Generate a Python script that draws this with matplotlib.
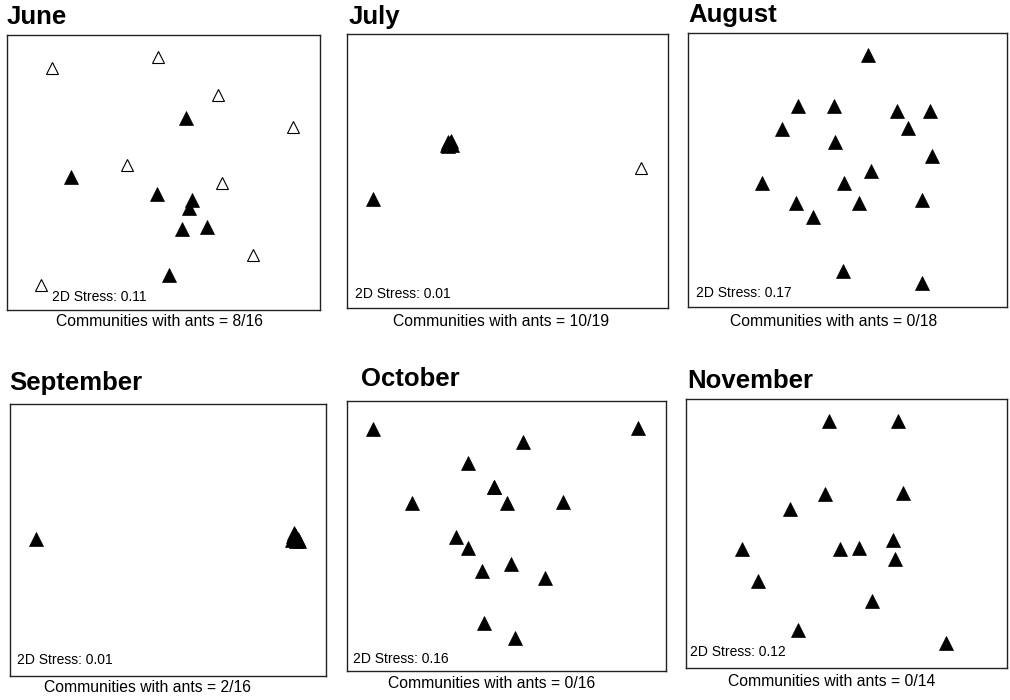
import matplotlib
matplotlib.use("Agg")
import matplotlib.pyplot as plt

plt.rcParams['font.family'] = ['Liberation Sans', 'DejaVu Sans']

W, H = 1010, 700

# NMDS scores per month, rescaled to the unit frame
# filled = communities without ants, open = communities with ants
june_no_x = [0.571, 0.204, 0.478, 0.590, 0.582, 0.558, 0.640, 0.519]
june_no_y = [0.697, 0.485, 0.421, 0.400, 0.370, 0.293, 0.301, 0.127]
june_ants_x = [0.143, 0.481, 0.675, 0.915, 0.382, 0.686, 0.785, 0.108]
june_ants_y = [0.879, 0.921, 0.782, 0.667, 0.527, 0.461, 0.200, 0.091]

july_no_x = [0.082, 0.312, 0.316, 0.320, 0.324, 0.318, 0.322, 0.315, 0.326]
july_no_y = [0.398, 0.595, 0.605, 0.600, 0.610, 0.598, 0.603, 0.593, 0.596]
july_ants_x = [0.916, 0.319, 0.317, 0.321, 0.319, 0.320, 0.318, 0.322, 0.316, 0.323]
july_ants_y = [0.510, 0.601, 0.599, 0.603, 0.597, 0.602, 0.600, 0.598, 0.604, 0.601]

aug_no_x = [0.565, 0.346, 0.459, 0.656, 0.759, 0.296, 0.691, 0.462, 0.766,
            0.575, 0.233, 0.490, 0.339, 0.535, 0.733, 0.392, 0.487, 0.733]
aug_no_y = [0.920, 0.734, 0.734, 0.715, 0.715, 0.650, 0.654, 0.603, 0.552,
            0.497, 0.454, 0.451, 0.378, 0.381, 0.391, 0.330, 0.131, 0.089]
aug_ants_x = []
aug_ants_y = []

sep_no_x = [0.081, 0.892, 0.898, 0.903, 0.908, 0.913, 0.900, 0.905,
            0.896, 0.910, 0.902, 0.906, 0.899, 0.904]
sep_no_y = [0.504, 0.500, 0.512, 0.520, 0.505, 0.498, 0.525, 0.508,
            0.515, 0.502, 0.518, 0.496, 0.510, 0.506]
sep_ants_x = [0.903, 0.901]
sep_ants_y = [0.508, 0.512]

oct_no_x = [0.082, 0.913, 0.551, 0.378, 0.462, 0.203, 0.503, 0.678,
            0.343, 0.378, 0.423, 0.513, 0.622, 0.429, 0.528, 0.462]
oct_no_y = [0.896, 0.899, 0.847, 0.771, 0.680, 0.621, 0.621, 0.625,
            0.497, 0.457, 0.370, 0.395, 0.343, 0.179, 0.121, 0.680]
oct_ants_x = []
oct_ants_y = []

nov_no_x = [0.446, 0.661, 0.434, 0.676, 0.325, 0.644, 0.175,
            0.480, 0.540, 0.651, 0.224, 0.580, 0.350, 0.809]
nov_no_y = [0.918, 0.918, 0.646, 0.649, 0.591, 0.476, 0.441,
            0.441, 0.445, 0.404, 0.325, 0.250, 0.141, 0.092]
nov_ants_x = []
nov_ants_y = []

months = ["June", "July", "August", "September", "October", "November"]
stress = ["0.11", "0.01", "0.17", "0.01", "0.16", "0.12"]
with_ants = ["8/16", "10/19", "0/18", "2/16", "0/16", "0/14"]

no_x = [june_no_x, july_no_x, aug_no_x, sep_no_x, oct_no_x, nov_no_x]
no_y = [june_no_y, july_no_y, aug_no_y, sep_no_y, oct_no_y, nov_no_y]
ants_x = [june_ants_x, july_ants_x, aug_ants_x, sep_ants_x, oct_ants_x, nov_ants_x]
ants_y = [june_ants_y, july_ants_y, aug_ants_y, sep_ants_y, oct_ants_y, nov_ants_y]

# frame boxes in pixels: left, top, right, bottom
boxes = [(7, 35, 320, 310), (347, 34, 668, 308), (688, 33, 1007, 307),
         (10, 404, 326, 676), (347, 401, 666, 671), (686, 399, 1007, 668)]
# title (x, baseline), stress text offset (axes frac), caption centre
title_pos = [(7, 24), (349, 24), (688, 22), (9, 390), (361, 386), (687, 388)]
stress_pos = [(0.144, 0.047), (0.025, 0.051), (0.024, 0.051),
              (0.022, 0.059), (0.019, 0.044), (0.012, 0.059)]
caption_pos = [(160, 322), (501, 322), (834, 322), (148, 688), (492, 683), (832, 682)]

fig = plt.figure(figsize=(W / 100, H / 100), dpi=100)

for i in range(6):
    l, t, r, b = boxes[i]
    ax = fig.add_axes([l / W, 1 - b / H, (r - l) / W, (b - t) / H])
    ax.set_xlim(0, 1)
    ax.set_ylim(0, 1)
    ax.set_xticks([])
    ax.set_yticks([])
    for s in ax.spines.values():
        s.set_linewidth(1.0)
        s.set_color('#222222')

    ax.plot(ants_x[i], ants_y[i], linestyle='none', marker='^', markersize=9.2,
            markerfacecolor='white', markeredgecolor='black', markeredgewidth=0.8)
    ax.plot(no_x[i], no_y[i], linestyle='none', marker='^', markersize=9.4,
            markerfacecolor='black', markeredgecolor='black', markeredgewidth=0.5)

    sx, sy = stress_pos[i]
    ax.text(sx, sy, "2D Stress: " + stress[i], transform=ax.transAxes,
            fontsize=10, ha='left', va='center')

    tx, ty = title_pos[i]
    fig.text(tx / W, 1 - ty / H, months[i], fontsize=18.5, fontweight='bold',
             ha='left', va='baseline')

    cx, cy = caption_pos[i]
    fig.text(cx / W, 1 - cy / H, "Communities with ants = " + with_ants[i],
             fontsize=11.3, ha='center', va='center')

fig.savefig("out.png", dpi=100)
